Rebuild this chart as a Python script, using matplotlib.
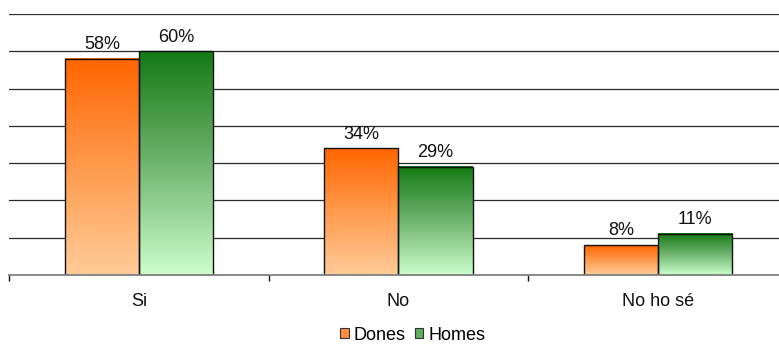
import numpy as np
import matplotlib
matplotlib.use("Agg")
import matplotlib.pyplot as plt
from matplotlib.colors import LinearSegmentedColormap
from matplotlib.patches import Patch

categories = ["Si", "No", "No ho sé"]
series_names = ["Dones", "Homes"]
dones = [58, 34, 8]
homes = [60, 29, 11]

plt.rcParams["font.family"] = ["Liberation Sans", "DejaVu Sans"]
FS = 13

fig = plt.figure(figsize=(7.79, 3.44), dpi=100)
ax = fig.add_axes([9 / 779, 69 / 344, 779 / 779, 261 / 344])

ymax = 70

grad_orange = LinearSegmentedColormap.from_list("or", ["#FFCC99", "#FF9A4D", "#FF6600"])
grad_green = LinearSegmentedColormap.from_list("gr", ["#CCFFCC", "#6FB46F", "#137A13"])

bar_w = 0.285
x = np.arange(len(categories)) + 0.5
grad = np.linspace(0, 1, 256).reshape(-1, 1)

for vals, offset, cmap in [(dones, -bar_w / 2, grad_orange), (homes, bar_w / 2, grad_green)]:
    bars = ax.bar(x + offset, vals, width=bar_w, facecolor="none",
                  edgecolor="#111111", linewidth=1.0, zorder=4)
    for b, v in zip(bars, vals):
        x0 = b.get_x()
        ax.imshow(grad, cmap=cmap, origin="lower", aspect="auto",
                  extent=(x0, x0 + bar_w, 0, v), zorder=3, interpolation="bilinear")
        ax.annotate(f"{v}%", (x0 + bar_w / 2, v), xytext=(0, 7), textcoords="offset points",
                    ha="center", va="baseline", fontsize=FS, color="#111111", zorder=5)

ax.set_xlim(0, 3)
ax.set_ylim(0, ymax)

# horizontal gridlines
for yv in range(10, ymax + 1, 10):
    ax.axhline(yv, color="#2a2a2a", linewidth=0.9, zorder=1)

for s in ["top", "right", "left"]:
    ax.spines[s].set_visible(False)
ax.spines["bottom"].set_color("#808080")
ax.spines["bottom"].set_linewidth(1.3)
ax.spines["bottom"].set_zorder(6)

ax.set_yticks([])
ax.set_xticks([0, 1, 2, 3])
ax.set_xticklabels([])
ax.tick_params(axis="x", length=4, width=1, color="#111111", direction="out")
ax.set_xticks(x, minor=True)
ax.set_xticklabels(categories, minor=True, fontsize=FS, color="#111111")
ax.tick_params(axis="x", which="minor", length=0, pad=13)

handles = [Patch(facecolor="#FF8C40", edgecolor="#333333", linewidth=0.8),
           Patch(facecolor="#5FAF5F", edgecolor="#333333", linewidth=0.8)]
fig.legend(handles, series_names, loc="center", bbox_to_anchor=(413 / 779, 1 - 335 / 344),
           ncol=2, frameon=False, fontsize=FS, handlelength=0.45, handleheight=0.45,
           handletextpad=0.3, columnspacing=0.5, borderpad=0)

fig.savefig("out.png", dpi=100)
